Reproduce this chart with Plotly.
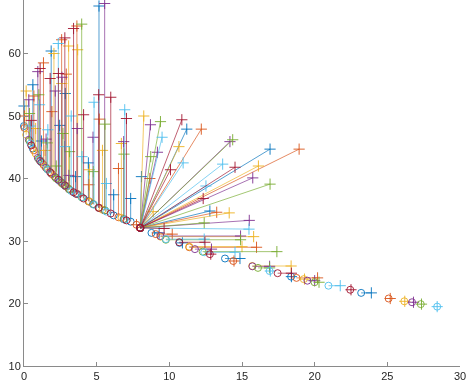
import plotly.graph_objects as go

# ---- data ----
# Left group: circle on the front at (vert_x, vert_y0), "+" straight above at vert_y1
vert_x = [0.0, 0.03, 0.15, 0.33, 0.38, 0.45, 0.5, 0.61, 0.68, 0.8, 0.95, 1.02, 1.07, 1.11, 1.2,
          1.34, 1.45, 1.52, 1.6, 1.64, 1.8, 1.87, 1.92, 2.06, 2.15, 2.22, 2.36, 2.37, 2.45, 2.59,
          2.6, 2.61, 2.68, 2.79, 2.81, 2.84, 2.91, 3.07, 3.09, 3.14, 3.25, 3.41, 3.55, 3.64, 3.69,
          3.66, 3.97, 3.99, 4.1, 4.43, 4.47, 4.5, 4.75, 4.77, 4.82, 5.14, 5.16, 5.18, 5.4, 5.55,
          5.57, 5.67, 5.97, 6.17, 6.5, 6.7, 6.86, 6.88, 6.93, 7.05, 7.34, 7.74]
vert_y0 = [48.4, 48.1, 47.0, 46.2, 46.0, 45.6, 45.3, 44.8, 44.5, 44.0, 43.3, 43.1, 43.0, 42.8, 42.6,
           42.2, 41.9, 41.7, 41.5, 41.4, 41.0, 40.8, 40.7, 40.4, 40.2, 40.0, 39.8, 39.8, 39.6, 39.3,
           39.3, 39.3, 39.1, 38.9, 38.9, 38.8, 38.7, 38.4, 38.3, 38.2, 38.0, 37.8, 37.6, 37.5, 37.5,
           37.5, 37.0, 37.0, 36.8, 36.4, 36.3, 36.3, 35.9, 35.9, 35.8, 35.3, 35.3, 35.3, 35.0, 34.9,
           34.9, 34.7, 34.4, 34.1, 33.8, 33.7, 33.5, 33.5, 33.4, 33.3, 33.1, 32.6]
vert_y1 = [51.6, 50.0, 54.0, 52.6, 50.4, 48.4, 49.3, 55.0, 53.2, 48.0, 57.1, 53.4, 51.8, 57.6, 46.0,
           58.5, 44.5, 46.3, 45.7, 47.8, 56.0, 60.4, 50.7, 60.0, 54.0, 42.0, 61.6, 56.8, 48.5, 62.2,
           55.2, 56.2, 47.2, 45.1, 62.5, 53.6, 56.7, 61.2, 40.5, 44.3, 50.0, 64.0, 40.3, 64.4, 60.6,
           48.0, 64.7, 43.5, 50.2, 42.5, 39.0, 41.4, 46.6, 41.1, 52.2, 53.4, 67.6, 49.5, 44.5, 68.0,
           48.7, 39.2, 53.0, 37.4, 41.6, 45.6, 45.9, 43.9, 51.0, 49.6, 36.8, 32.6]

# Knee point and its fan of "+" points
fan_ox = 8.0
fan_oy = 32.1
fan_x = [8.24, 8.7, 9.39, 9.5, 10.86, 11.2, 12.2, 10.66, 9.18, 8.72, 10.95, 10.08, 8.08, 8.66,
         8.89, 14.17, 14.36, 13.67, 14.52, 16.93, 18.93, 16.13, 15.74, 16.93, 12.52, 12.33,
         12.79, 13.26, 14.12, 15.5, 12.4, 15.48, 9.64]
fan_y = [50.0, 48.6, 49.1, 46.6, 49.4, 47.9, 47.9, 45.1, 44.2, 43.5, 42.5, 41.4, 40.3, 40.0,
         34.7, 45.9, 46.2, 42.3, 41.8, 44.7, 44.7, 42.0, 40.1, 39.1, 38.8, 36.8,
         34.8, 34.6, 34.5, 33.3, 32.9, 31.9, 32.0]

# Right group: circle at (horiz_x0, horiz_y), "+" to the right at horiz_x1
horiz_x0 = [8.77, 9.07, 9.39, 9.39, 9.76, 9.76, 10.68, 10.7, 11.37, 11.37, 11.76, 12.29, 12.4,
            12.79, 13.83, 14.4, 15.7, 15.72, 16.1, 16.9, 17.45, 18.38, 18.75, 19.25, 19.5,
            19.99, 20.95, 22.45, 23.2, 25.09, 26.17, 26.7, 27.3, 28.43]
horiz_y = [31.3, 31.1, 30.7, 30.8, 30.2, 30.3, 29.8, 29.7, 29.0, 29.1, 28.7, 28.3, 28.2,
           27.9, 27.2, 26.8, 26.0, 25.95, 25.7, 25.2, 24.85, 24.3, 24.1, 23.9, 23.65,
           23.4, 22.85, 22.2, 21.7, 20.8, 20.35, 20.2, 19.9, 19.5]
horiz_x1 = [9.3, 10.2, 15.8, 14.9, 14.9, 12.4, 12.45, 10.9, 16.0, 15.0, 12.9, 17.4, 14.52,
            12.85, 14.86, 14.45, 18.38, 16.9, 16.9, 16.95, 18.4, 18.4, 20.2, 19.3, 20.0,
            20.3, 21.76, 22.5, 23.9, 25.2, 26.2, 26.8, 27.35, 28.43]

colors = ["#0072BD", "#D95319", "#EDB120", "#7E2F8E", "#77AC30", "#4DBEEE", "#A2142F"]

# ---- assemble segments ----
segs = []
for x, y0, y1 in zip(vert_x, vert_y0, vert_y1):
    segs.append((x, y0, x, y1))
for x, y in zip(fan_x, fan_y):
    segs.append((fan_ox, fan_oy, x, y))
for x0, y, x1 in zip(horiz_x0, horiz_y, horiz_x1):
    segs.append((x0, y, x1, y))

fig = go.Figure()
for ci, col in enumerate(colors):
    mine = [s for i, s in enumerate(segs) if i % len(colors) == ci]
    lx, ly = [], []
    for (a, b, c, d) in mine:
        lx += [a, c, None]
        ly += [b, d, None]
    fig.add_trace(go.Scatter(x=lx, y=ly, mode="lines", line=dict(color=col, width=0.8),
                             opacity=0.85, hoverinfo="skip", showlegend=False, cliponaxis=False))
    fig.add_trace(go.Scatter(x=[s[0] for s in mine], y=[s[1] for s in mine], mode="markers",
                             marker=dict(symbol="circle-open", size=7, color=col,
                                         line=dict(width=0.9, color=col)),
                             showlegend=False, cliponaxis=False))
    fig.add_trace(go.Scatter(x=[s[2] for s in mine], y=[s[3] for s in mine], mode="markers",
                             marker=dict(symbol="cross-thin-open", size=8, color=col,
                                         line=dict(width=0.9, color=col)),
                             showlegend=False, cliponaxis=False))

axis_col = "#8a8a8a"
fig.update_layout(
    width=474, height=390,
    margin=dict(l=24, r=14, t=0, b=24),
    paper_bgcolor="white", plot_bgcolor="white",
    font=dict(family="Liberation Sans, Arial, sans-serif", size=11, color="#262626"),
    xaxis=dict(range=[0, 30], tickvals=[0, 5, 10, 15, 20, 25, 30], showgrid=False,
               zeroline=False, showline=True, linecolor=axis_col, linewidth=1,
               ticks="inside", ticklen=4, tickcolor=axis_col, mirror=False),
    yaxis=dict(range=[10, 68.56], tickvals=[10, 20, 30, 40, 50, 60], showgrid=False,
               zeroline=False, showline=True, linecolor=axis_col, linewidth=1,
               ticks="inside", ticklen=4, tickcolor=axis_col, mirror=False),
)
fig.write_html("out.html", config={"displayModeBar": False},
               post_script="document.body.style.margin='0';")
